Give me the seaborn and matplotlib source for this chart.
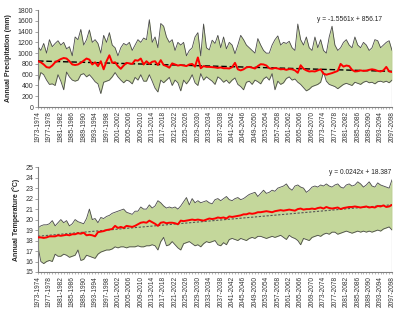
import numpy as np
import pandas as pd
import seaborn as sns
import matplotlib
matplotlib.use("Agg")
import matplotlib.pyplot as plt

# hydrological years 1973-1974 ... 2097-2098
start_years = list(range(1973, 2098))
year_labels = [f"{y}-{y + 1}" for y in start_years]

precip_upper = [
    1120, 1050, 1180, 1000, 1250, 1120, 1180, 1230, 1150, 1200,
    1080, 1120, 950, 1300, 1250, 1440, 1150, 1250, 1430, 1200,
    1250, 1180, 1000, 1330, 1200, 1380, 1150, 1100, 950, 1100,
    1180, 1150, 1200, 1050, 1150, 1250, 1200, 1280, 1250, 1620,
    1200, 1300, 1100, 1550, 1500, 1300, 1200, 1250, 1050, 1200,
    1150, 1200, 950, 1050, 1100, 1300, 1380, 950, 1540, 1100,
    1060, 1240, 1180, 1330, 1100, 1300, 1080, 1200, 1150, 990,
    1150, 1330, 1250, 1150, 1100, 1050, 1000, 1270, 1150, 1050,
    1000, 1000, 1150, 1250, 1320, 1150, 1200, 1180, 1220, 1100,
    1050, 1540, 1250, 1150, 1300, 1100, 1050, 1300, 1100, 1250,
    1050, 1000, 1300, 1500, 1150, 1050, 1100, 1200, 1250, 1150,
    1100, 1300, 1150, 1100, 1200, 1150, 1050, 1100, 1250, 1230,
    1100, 1150, 1200, 1230, 1050,
]
precip_mean = [
    850, 830, 790, 740, 730, 770, 830, 860, 890, 910,
    900, 850, 790, 780, 790, 820, 860, 900, 880, 790,
    830, 760, 850, 700, 850, 960, 820, 830, 760, 710,
    770, 820, 810, 800, 870, 860, 900, 790, 850, 800,
    840, 850, 780, 870, 780, 760, 730, 810, 790, 770,
    780, 770, 760, 790, 800, 750, 920, 720, 760, 745,
    745, 740, 735, 726, 735, 720, 720, 715, 740, 820,
    700, 680, 700, 735, 745, 730, 715, 760, 795, 790,
    770, 720, 710, 725, 715, 700, 705, 690, 705, 700,
    680, 635, 775, 710, 680, 660, 665, 660, 680, 700,
    620, 600, 615, 630, 650, 670, 800, 750, 770, 760,
    690, 660, 665, 680, 670, 675, 690, 700, 690, 670,
    660, 680, 745, 660, 650,
]
precip_lower = [
    450, 640, 600, 500, 420, 430, 400, 600, 480, 320,
    650, 560, 500, 480, 500, 600, 620, 560, 600, 540,
    470, 430, 250, 460, 480, 500, 560, 640, 560, 500,
    450, 500, 480, 430, 550, 500, 600, 480, 480, 600,
    480, 350, 280, 500, 450, 500, 550, 400, 500, 450,
    300, 500, 430, 500, 600, 450, 400, 620, 500, 560,
    520, 480, 420, 560, 520, 460, 500, 440, 500, 540,
    420, 380, 320, 460, 480, 420, 500, 470, 430, 520,
    560, 500, 620, 320, 480, 420, 450, 530, 560, 500,
    520, 460, 420, 360, 300, 330, 380, 400, 420, 460,
    650, 480, 420, 400, 380, 340, 380, 420, 440, 420,
    400, 460, 440, 420, 460, 480, 450, 460, 430, 470,
    480, 460, 480, 450, 500,
]
precip_slope, precip_intercept = -1.5561, 856.17

temp_upper = [
    19.2, 19.4, 19.5, 19.5, 19.6, 19.9, 19.4, 19.7, 20.0, 19.7,
    19.9, 19.4, 19.6, 20.0, 19.8, 19.7, 19.6, 20.1, 21.0, 20.0,
    20.1, 19.7, 20.2, 20.1, 20.3, 20.4, 20.6, 20.7, 20.8, 20.9,
    21.0, 20.7, 20.6, 20.5, 20.8, 20.8, 21.2, 21.0, 21.0, 21.4,
    21.1, 21.3, 21.8, 21.6, 21.3, 21.1, 21.2, 21.1, 21.2, 21.0,
    21.3, 21.7, 22.1, 21.4, 22.0, 21.6, 21.8, 21.6, 21.7, 21.8,
    21.6, 21.5, 21.9, 22.0, 21.8, 22.0, 22.2, 21.9, 21.8, 22.0,
    22.1, 21.9, 22.0, 22.2, 22.4, 22.5, 22.6, 22.2, 22.5, 22.8,
    22.5, 22.6, 22.8, 22.7, 23.0, 23.1, 23.2, 23.4, 23.0, 22.8,
    23.2, 23.3, 23.1, 23.0, 22.6, 22.8, 23.1, 23.2, 23.1, 23.3,
    23.2, 23.4, 23.2, 23.1, 23.3, 23.4, 23.1, 23.0, 23.3, 23.4,
    23.2, 23.3, 23.6, 23.4, 23.1, 23.3, 23.6, 23.2, 23.1, 23.5,
    23.3, 23.2, 23.1, 23.0, 23.8,
]
temp_mean = [
    18.3, 18.3, 18.25, 18.3, 18.4, 18.4, 18.4, 18.5, 18.45, 18.5,
    18.55, 18.5, 18.6, 18.6, 18.7, 18.65, 18.75, 18.5, 18.55, 18.5,
    18.4, 18.8, 18.85, 18.9, 19.0, 19.05, 19.1, 19.4, 19.2, 19.3,
    19.2, 19.4, 19.35, 19.3, 19.4, 19.55, 19.7, 19.75, 19.7, 19.9,
    19.75, 19.6, 19.4, 19.7, 19.75, 19.65, 19.7, 19.7, 19.65, 19.55,
    19.9, 19.85, 19.9, 19.95, 20.0, 19.95, 20.0, 19.95, 19.9, 20.0,
    20.1, 20.05, 20.1, 20.2, 20.15, 20.2, 20.1, 20.3, 20.25, 20.3,
    20.35, 20.4, 20.5, 20.5, 20.6, 20.55, 20.6, 20.7, 20.7, 20.75,
    20.8, 20.75, 20.7, 20.8, 20.85, 20.9, 20.85, 20.9, 20.95, 20.9,
    20.85, 21.0, 21.05, 20.95, 21.0, 21.0, 21.05, 21.0, 21.1, 21.15,
    21.05, 21.2, 21.1, 21.05, 21.1, 21.15, 21.0, 21.1, 21.15, 21.2,
    21.2, 21.25, 21.2, 21.15, 21.2, 21.25, 21.15, 21.2, 21.15, 21.3,
    21.25, 21.35, 21.2, 21.25, 21.4,
]
temp_lower = [
    17.4, 16.0, 15.8, 16.0, 16.1, 16.0, 16.7, 16.5, 16.5, 16.7,
    16.6, 16.4, 16.5, 16.6, 17.1, 16.1, 16.2, 16.6, 16.5, 16.4,
    16.3, 16.7, 16.9, 17.0, 17.1, 17.1, 17.2, 17.4, 17.3, 17.4,
    17.4, 17.3, 17.4, 17.4, 17.4, 17.5, 17.4, 17.4, 17.5, 17.5,
    17.6, 17.5, 17.1, 17.9, 18.3, 17.5, 17.6, 17.9, 17.6, 17.3,
    17.1, 17.7, 17.8, 17.9, 17.7, 17.5, 17.6, 17.4, 17.7, 17.9,
    17.8, 17.9, 18.0, 17.6, 17.5, 17.8, 17.6, 18.1, 18.2, 18.1,
    18.0, 18.2, 18.1, 18.0, 18.2, 18.3, 18.2, 18.4, 18.4, 18.3,
    18.2, 18.3, 18.4, 18.3, 18.4, 18.5, 18.3, 18.1, 18.5, 18.3,
    18.2, 18.0, 17.6, 18.2, 18.1, 18.0, 18.3, 18.4, 18.5, 18.4,
    18.6, 18.7, 18.6, 18.8, 18.8, 18.6, 18.7, 18.8, 18.9, 18.8,
    18.7, 18.8, 18.9, 18.8, 18.9, 18.8, 18.9, 18.8, 18.9, 19.0,
    18.9, 19.1, 19.2, 19.3, 19.0,
]
temp_slope, temp_intercept = 0.0242, 18.387

sns.set_style("white")
plt.rcParams["font.family"] = ["Liberation Sans", "DejaVu Sans"]

FILL = "#c4d79b"
EDGE = "#4a4a4a"


def draw_panel(ax, upper, mean, lower, slope, intercept, ylabel, ylim, yticks,
               eq_text, eq_pos, trend_style):
    x = np.arange(len(year_labels))
    df = pd.DataFrame({"x": x, "upper": upper, "mean": mean, "lower": lower})
    ax.fill_between(df["x"], df["lower"], df["upper"], color=FILL, lw=0, zorder=1)
    sns.lineplot(data=df, x="x", y="upper", ax=ax, color=EDGE, lw=0.6, zorder=2)
    sns.lineplot(data=df, x="x", y="lower", ax=ax, color=EDGE, lw=0.6, zorder=2)
    ax.vlines(x[-1], ylim[0], upper[-1], color="#808080", lw=0.8, zorder=2)
    sns.lineplot(data=df, x="x", y="mean", ax=ax, color="#ff0000", lw=1.4, zorder=4)
    trend = intercept + slope * (x + 1)
    ax.plot(x, trend, zorder=3, **trend_style)

    ax.set_xlim(0, len(x) - 1)
    ax.set_ylim(*ylim)
    ax.set_yticks(yticks)
    ax.set_xticks(x[::4])
    ax.set_xticks(x, minor=True)
    ax.set_xticklabels(year_labels[::4], rotation=90, fontsize=4.7, color="#333333")
    ax.tick_params(axis="y", labelsize=5, length=2, width=0.5, color="#808080", pad=1.5,
                   labelcolor="#333333")
    ax.tick_params(axis="x", which="both", length=1.5, width=0.4, color="#808080", pad=1.5,
                   bottom=True)
    ax.tick_params(axis="y", left=True)
    for side in ["top", "right"]:
        ax.spines[side].set_visible(False)
    for side in ["left", "bottom"]:
        ax.spines[side].set_color("#808080")
        ax.spines[side].set_linewidth(0.8)
    ax.set_xlabel("")
    ax.set_ylabel(ylabel, fontsize=5, fontweight="bold", labelpad=4)
    ax.text(eq_pos[0], eq_pos[1], eq_text, transform=ax.transAxes, fontsize=4.8,
            ha="center", va="center", color="#222222")


fig = plt.figure(figsize=(4.0, 3.13), dpi=100)
ax1 = fig.add_axes([0.095, 0.658, 0.885, 0.31])
ax2 = fig.add_axes([0.095, 0.131, 0.885, 0.335])

draw_panel(ax1, precip_upper, precip_mean, precip_lower, precip_slope, precip_intercept,
           "Annual Precipitation (mm)", (0, 1800), np.arange(0, 1801, 200),
           "y = -1.5561x + 856.17", (0.88, 0.90),
           dict(color="black", lw=1.0, ls=(0, (4, 2))))
draw_panel(ax2, temp_upper, temp_mean, temp_lower, temp_slope, temp_intercept,
           "Annual Temperature (\u00b0C)", (15, 25), np.arange(15, 26, 1),
           "y = 0.0242x + 18.387", (0.91, 0.95),
           dict(color="#555555", lw=0.8, ls=(0, (2, 1.5))))

fig.savefig("out.png", dpi=100)
